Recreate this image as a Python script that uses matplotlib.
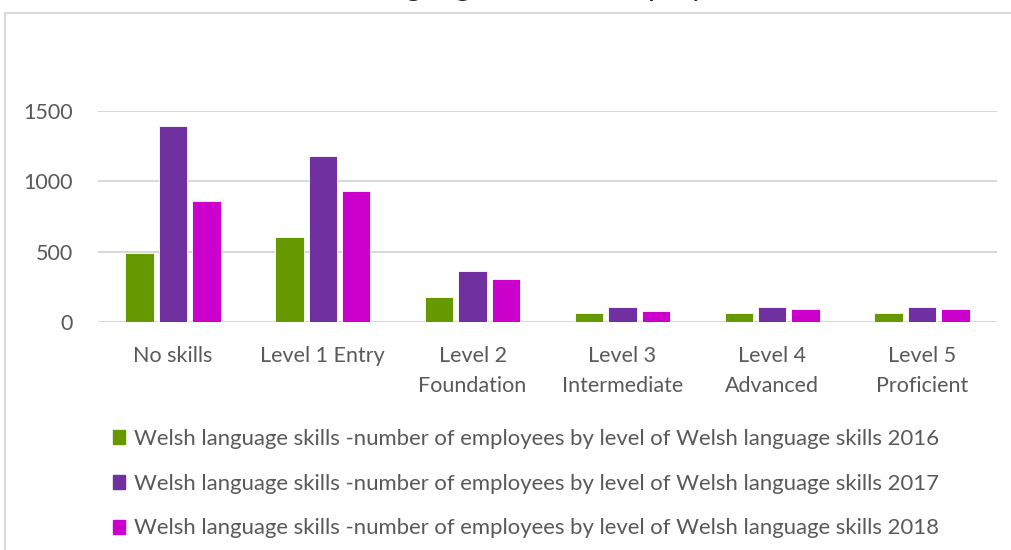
import matplotlib
matplotlib.use('Agg')
import matplotlib.pyplot as plt
import numpy as np
from matplotlib.patches import Rectangle, Patch

# data
categories = ['No skills', 'Level 1 Entry', 'Level 2\nFoundation', 'Level 3\nIntermediate',
              'Level 4\nAdvanced', 'Level 5\nProficient']
years = ['2016', '2017', '2018']
values_2016 = [490, 604, 178, 62, 62, 62]
values_2017 = [1395, 1182, 360, 104, 104, 104]
values_2018 = [858, 929, 306, 76, 90, 90]
series_label = 'Welsh language skills -number of employees by level of Welsh language skills '
title = 'Welsh language skills of employees'

colors = ['#669900', '#7030A0', '#CC00CC']
text_col = '#595959'
plt.rcParams['font.family'] = ['Lato', 'DejaVu Sans']

fig = plt.figure(figsize=(10.12, 5.5), dpi=100)

# chart border (clipped at right / bottom like the reference)
fig.patches.append(Rectangle((5 / 1012, -0.1), 1.2, 1 - 13 / 550 + 0.1, transform=fig.transFigure,
                             fill=False, edgecolor='#D9D9D9', linewidth=1.5))

# title, cut off at the top edge as in the reference
fig.text(0.505, 1 + 4 / 550, title, ha='center', va='baseline', fontsize=22.5, color='#262626')

ax = fig.add_axes([98 / 1012, 1 - 322 / 550, (997 - 98) / 1012, (322 - 111) / 550])
x = np.arange(len(categories))
width = 0.19
offsets = [-0.223, 0, 0.223]
for vals, off, c in zip([values_2016, values_2017, values_2018], offsets, colors):
    ax.bar(x + off, vals, width, color=c, edgecolor='white', linewidth=0.6, zorder=3)

ax.set_xlim(-0.5, len(categories) - 0.5)
ax.set_ylim(0, 1500)
ax.set_yticks([0, 500, 1000, 1500])
ax.yaxis.grid(True, color='#D9D9D9', linewidth=1.5, zorder=0)
ax.set_axisbelow(True)
for s in ax.spines.values():
    s.set_visible(False)
ax.tick_params(axis='both', length=0, labelsize=15.5, labelcolor=text_col)
ax.tick_params(axis='y', pad=18)
ax.tick_params(axis='x', pad=17)
ax.set_xticks(x)
ax.set_xticklabels(categories, linespacing=1.65)

handles = [Patch(color=c) for c in colors]
labels = [series_label + y for y in years]
fig.legend(handles, labels, loc='upper left', bbox_to_anchor=(104 / 1012, 1 - 420 / 550),
           frameon=False, fontsize=15.9, labelcolor=text_col, handlelength=0.55, handleheight=0.6,
           handletextpad=0.4, labelspacing=1.12, borderaxespad=0)

fig.savefig('out.png', dpi=100)
